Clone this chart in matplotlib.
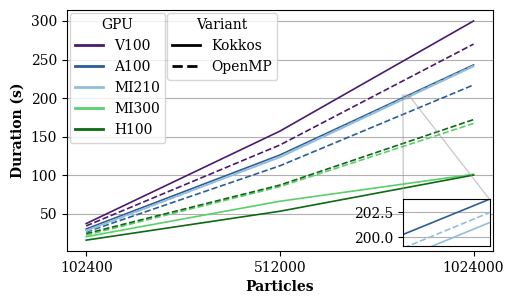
import matplotlib
matplotlib.use("Agg")
import matplotlib.pyplot as plt
from matplotlib.lines import Line2D

plt.rcParams["font.family"] = "DejaVu Serif"

particles = ["102400", "512000", "1024000"]
gpus = ["V100", "A100", "MI210", "MI300", "H100"]
colors = {
    "V100": "#4a1b6d",
    "A100": "#2d5d96",
    "MI210": "#93bedb",
    "MI300": "#5ccf6b",
    "H100": "#0b6a12",
}

# durations in seconds, one list per (gpu, variant)
v100_kokkos = [37, 157, 300]
v100_openmp = [34, 139, 270]
a100_kokkos = [30, 126, 243]
a100_openmp = [26, 112, 217]
mi210_kokkos = [28, 123, 241]
mi210_openmp = [27, 124, 242]
mi300_kokkos = [20, 66, 101]
mi300_openmp = [22, 85, 167]
h100_kokkos = [15.5, 53, 100]
h100_openmp = [24, 87, 172]

series = [
    ("V100", "Kokkos", v100_kokkos),
    ("V100", "OpenMP", v100_openmp),
    ("A100", "Kokkos", a100_kokkos),
    ("A100", "OpenMP", a100_openmp),
    ("MI210", "Kokkos", mi210_kokkos),
    ("MI210", "OpenMP", mi210_openmp),
    ("MI300", "Kokkos", mi300_kokkos),
    ("MI300", "OpenMP", mi300_openmp),
    ("H100", "Kokkos", h100_kokkos),
    ("H100", "OpenMP", h100_openmp),
]
styles = {"Kokkos": "-", "OpenMP": "--"}

fig = plt.figure(figsize=(5.14, 3.04), dpi=100)
ax = fig.add_axes([0.13, 0.174, 0.829, 0.793])
x = list(range(len(particles)))

for gpu, variant, vals in series:
    ax.plot(x, vals, color=colors[gpu], linestyle=styles[variant], lw=1.2)

ax.set_xticks(x)
ax.set_xticklabels(particles)
ax.set_xlabel("Particles", fontweight="bold")
ax.set_ylabel("Duration (s)", fontweight="bold")
ax.grid(axis="y", color="#b0b0b0")
ax.set_axisbelow(True)

gpu_handles = [Line2D([], [], color=colors[g], lw=2) for g in gpus]
leg1 = ax.legend(gpu_handles, gpus, title="GPU", loc="upper left",
                 handlelength=2, borderaxespad=0.2)
ax.add_artist(leg1)
var_handles = [Line2D([], [], color="black", lw=2, linestyle=styles[v])
               for v in ["Kokkos", "OpenMP"]]
ax.legend(var_handles, ["Kokkos", "OpenMP"], title="Variant",
          loc="upper left", bbox_to_anchor=(0.228, 1.0), borderaxespad=0.2)

axins = ax.inset_axes([0.79, 0.02, 0.202, 0.195])
for gpu, variant, vals in series:
    axins.plot(x, vals, color=colors[gpu], linestyle=styles[variant], lw=1.2)
axins.set_xlim(1.635, 1.665)
axins.set_ylim(199.1, 203.8)
axins.set_xticks([])
axins.set_yticks([200.0, 202.5])
axins.set_yticklabels(["200.0", "202.5"])
axins.grid(axis="y", color="#b0b0b0")
ax.indicate_inset_zoom(axins, edgecolor="#999999")

fig.savefig("out.png", dpi=100)
